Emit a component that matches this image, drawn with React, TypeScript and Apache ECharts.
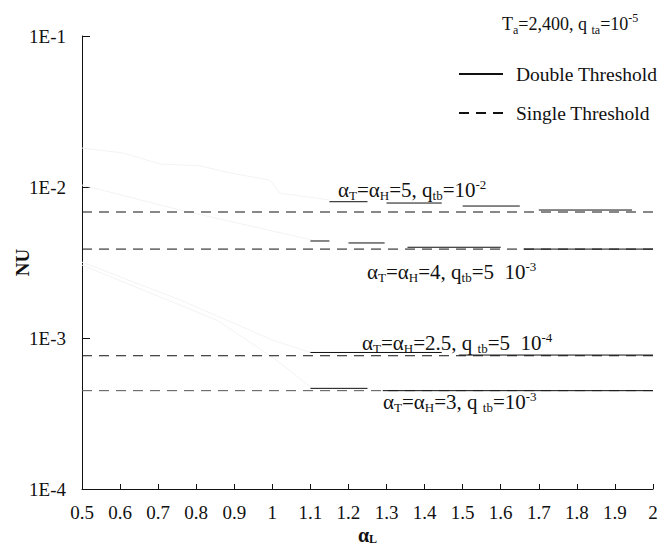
import React, { useEffect, useRef } from 'react';
import * as echarts from 'echarts';

const FONT = '"Liberation Serif", "Times New Roman", serif';

// axis ranges / ticks
const xMin = 0.5;
const xMax = 2.0;
const xStep = 0.1;
const yMin = 1e-4;
const yMax = 1e-1;

// Single threshold levels (dashed, across whole alpha_L range)
const singleX = [0.5, 2.0];
const singleNU = [6.83e-3, 3.88e-3, 7.63e-4, 4.48e-4];
const singleColors = ['#111', '#111', '#111', '#555'];

// Double threshold segments: [alphaL start, alphaL end, NU]
const doubleA5 = [[1.15, 1.25, 7.99e-3], [1.30, 1.445, 7.83e-3], [1.50, 1.65, 7.48e-3], [1.70, 1.945, 7.04e-3]];
const doubleA4 = [[1.10, 1.15, 4.39e-3], [1.20, 1.295, 4.26e-3], [1.355, 1.60, 3.99e-3], [1.66, 2.0, 3.88e-3]];
const doubleA25 = [[1.10, 1.445, 8.02e-4], [1.49, 2.0, 7.71e-4]];
const doubleA3 = [[1.10, 1.25, 4.64e-4], [1.29, 2.0, 4.48e-4]];

// very faint background traces
const faint1X = [0.5, 0.608, 0.705, 0.81, 0.889, 0.994, 1.02, 1.15];
const faint1Y = [0.0181, 0.0168, 0.0142, 0.0138, 0.0124, 0.0111, 0.0091, 0.0082];
const faint2X = [0.5, 0.757, 1.104];
const faint2Y = [0.0103, 0.00705, 0.00446];
const faint3X = [0.5, 0.757, 1.0, 1.104];
const faint3Y = [0.00318, 0.00179, 0.00097, 0.000796];
const faint4X = [0.5, 0.855, 1.0, 1.104];
const faint4Y = [0.00304, 0.00131, 0.000748, 0.000467];

const titleText = '{m|T}{s|a}{m|=2,400, q }{s|ta}{m|=10}{p|-5}';

const annotations = [
  { text: '{m|α}{s|T}{m|=α}{s|H}{m|=5, q}{s|tb}{m|=10}{p|-2}', left: 338, top: 178 },
  { text: '{m|α}{s|T}{m|=α}{s|H}{m|=4, q}{s|tb}{m|=5  10}{p|-3}', left: 367, top: 260 },
  { text: '{m|α}{s|T}{m|=α}{s|H}{m|=2.5, q }{s|tb}{m|=5  10}{p|-4}', left: 362, top: 331 },
  { text: '{m|α}{s|T}{m|=α}{s|H}{m|=3, q }{s|tb}{m|=10}{p|-3}', left: 383, top: 390 },
];

function segData(segs: number[][]) {
  const out: any[] = [];
  segs.forEach((s, i) => {
    if (i > 0) out.push([s[0], '-']);
    out.push([s[0], s[2]], [s[1], s[2]]);
  });
  return out;
}

function zip(xs: number[], ys: number[]) {
  return xs.map((x, i) => [x, ys[i]]);
}

const rich = {
  m: { fontSize: 21, fontFamily: FONT, fill: '#111', lineHeight: 24 },
  s: { fontSize: 13, fontFamily: FONT, fill: '#111', verticalAlign: 'bottom', lineHeight: 13 },
  p: { fontSize: 13, fontFamily: FONT, fill: '#111', verticalAlign: 'top', lineHeight: 13 },
};

const titleRich = {
  m: { fontSize: 18, fontFamily: FONT, color: '#111', lineHeight: 24 },
  s: { fontSize: 12, fontFamily: FONT, color: '#111', verticalAlign: 'bottom', lineHeight: 12 },
  p: { fontSize: 12, fontFamily: FONT, color: '#111', verticalAlign: 'top', lineHeight: 12 },
};

export default function App() {
  const ref = useRef<HTMLDivElement>(null);
  useEffect(() => {
    if (!ref.current) return;
    const chart = echarts.init(ref.current, null, { renderer: 'svg' });
    const series: any[] = [];
    [[faint1X, faint1Y], [faint2X, faint2Y], [faint3X, faint3Y], [faint4X, faint4Y]].forEach((f, i) => {
      series.push({
        type: 'line', name: 'trace' + i, data: zip(f[0], f[1]), symbol: 'none', silent: true,
        lineStyle: { color: '#f3f3f3', width: 1 }, z: 1,
      });
    });
    singleNU.forEach((v, i) => {
      series.push({
        type: 'line', name: 'Single Threshold', data: singleX.map((x) => [x, v]), symbol: 'none',
        lineStyle: { color: singleColors[i], width: 1, type: [10, 7] }, itemStyle: { color: singleColors[i] }, z: 2,
      });
    });
    [doubleA5, doubleA4, doubleA25, doubleA3].forEach((d) => {
      series.push({
        type: 'line', name: 'Double Threshold', data: segData(d), symbol: 'none', connectNulls: false,
        lineStyle: { color: '#111', width: 1 }, itemStyle: { color: '#111' }, z: 3,
      });
    });
    const option: any = {
      animation: false,
      backgroundColor: '#fff',
      title: {
        text: titleText, left: 497, top: 7,
        textStyle: { rich: titleRich, fontFamily: FONT, fontSize: 18, color: '#111', fontWeight: 'normal' },
      },
      grid: { left: 82, right: 7, top: 36, bottom: 56, outerBoundsMode: 'none', containLabel: false },
      legend: {
        data: ['Double Threshold', 'Single Threshold'],
        orient: 'vertical', left: 453, top: 59, itemWidth: 44, itemHeight: 20, itemGap: 19,
        selectedMode: false,
        itemStyle: { opacity: 0, borderWidth: 0 },
        textStyle: { fontFamily: FONT, fontSize: 19.5, color: '#111', padding: [0, 0, 0, 8], lineHeight: 20 },
      },
      xAxis: {
        type: 'value', min: xMin, max: xMax, interval: xStep,
        name: '{b|α}{s|L}', nameLocation: 'middle', nameGap: 36, nameMoveOverlap: false,
        nameTextStyle: {
          rich: {
            b: { fontSize: 20, fontWeight: 'bold', fontFamily: FONT, color: '#111' },
            s: { fontSize: 12, fontWeight: 'bold', fontFamily: FONT, color: '#111', verticalAlign: 'bottom', padding: [4, 0, 0, 0] },
          },
        },
        axisLine: { lineStyle: { color: '#111', width: 1 } },
        axisTick: { inside: true, length: 5, lineStyle: { color: '#111' } },
        axisLabel: {
          margin: 14, fontFamily: FONT, fontSize: 19, color: '#111',
          formatter: (v: number) => String(Math.round(v * 10) / 10),
        },
        splitLine: { show: false },
      },
      yAxis: {
        type: 'log', logBase: 10, min: yMin, max: yMax,
        name: 'NU', nameLocation: 'middle', nameGap: 50, nameRotate: 90, nameMoveOverlap: false,
        nameTextStyle: { fontFamily: FONT, fontSize: 19, fontWeight: 'bold', color: '#111' },
        axisLine: { show: true, lineStyle: { color: '#111', width: 1 } },
        axisTick: { show: true, inside: true, length: 8, lineStyle: { color: '#111' } },
        axisLabel: {
          margin: 16, fontFamily: FONT, fontSize: 19, color: '#111',
          formatter: (v: number) => '1E' + Math.round(Math.log10(v)),
        },
        splitLine: { show: false },
      },
      graphic: annotations.map((a) => ({
        type: 'text', left: a.left, top: a.top, silent: true,
        style: { text: a.text, rich, fontSize: 21, fontFamily: FONT, fill: '#111' },
      })),
      series,
    };
    chart.setOption(option);
    return () => chart.dispose();
  }, []);
  return (
    <div
      ref={ref}
      style={{ position: 'fixed', left: 0, top: 0, width: 660, height: 545, background: '#fff' }}
    />
  );
}
